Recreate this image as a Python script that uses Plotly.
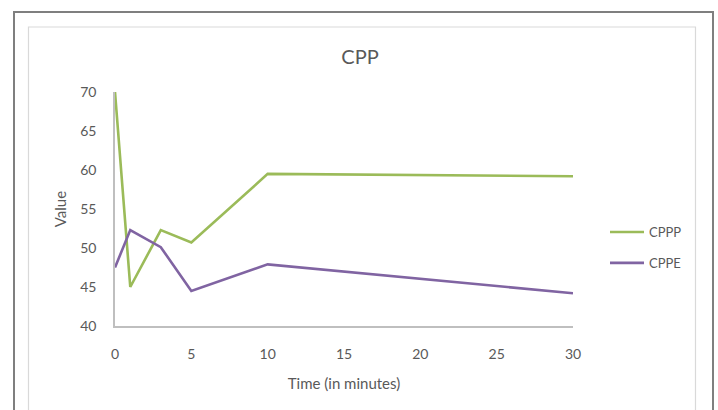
import plotly.graph_objects as go

time_min = [0, 1, 3, 5, 10, 30]
cppp = [70.0, 45.0, 52.3, 50.7, 59.5, 59.2]
cppe = [47.5, 52.3, 50.1, 44.5, 47.9, 44.2]
x_ticks = [0, 5, 10, 15, 20, 25, 30]
y_ticks = [40, 45, 50, 55, 60, 65, 70]

W, H = 718, 410
L, R, T, B = 115, 573, 92, 326
pw, ph = R - L, B - T

def px(xp):
    return (xp - L) / pw

def py(yp):
    return (B - yp) / ph

font_fam = "Lato, 'Open Sans', sans-serif"
grey = "#595959"

fig = go.Figure()
fig.add_trace(go.Scatter(x=time_min, y=cppp, mode="lines", name="CPPP", legendgroup="a",
                         line=dict(color="#9bbb59", width=2.6)))
fig.add_trace(go.Scatter(x=time_min, y=cppe, mode="lines", name="CPPE", legendgroup="b",
                         line=dict(color="#8064a2", width=2.6)))

fig.update_layout(
    width=W, height=H,
    margin=dict(l=L, r=W - R, t=T, b=H - B, pad=0),
    paper_bgcolor="white", plot_bgcolor="white",
    font=dict(family=font_fam, color=grey, size=14),
    title=dict(text="CPP", x=(360) / W, xanchor="center", y=1 - 57 / H, yanchor="middle",
               font=dict(size=20, color="#595959", family=font_fam)),
    showlegend=True,
    legend=dict(x=px(605), y=py(217), xanchor="left", yanchor="top",
                font=dict(size=13, color=grey, family=font_fam),
                tracegroupgap=11, itemwidth=34, bgcolor="rgba(0,0,0,0)"),
    xaxis=dict(range=[0, 30], tickvals=x_ticks, showgrid=False, zeroline=False,
               showline=True, linecolor="#bfbfbf", linewidth=1.5, ticks="",
               ticklabelstandoff=14,
               tickfont=dict(size=14, color=grey),
               title=dict(text="Time (in minutes)", standoff=18, font=dict(size=15, color=grey))),
    yaxis=dict(range=[40, 70], tickvals=y_ticks, showgrid=False, zeroline=False,
               showline=True, linecolor="#bfbfbf", linewidth=1.5, ticks="",
               ticklabelstandoff=14,
               tickfont=dict(size=14, color=grey),
               title=dict(text="Value", standoff=10, font=dict(size=15, color=grey))),
    shapes=[
        dict(type="rect", xref="paper", yref="paper",
             x0=px(14), x1=px(713), y0=py(12), y1=py(430),
             line=dict(color="#7f7f7f", width=2), fillcolor="rgba(0,0,0,0)", layer="below"),
        dict(type="rect", xref="paper", yref="paper",
             x0=px(28.5), x1=px(695.5), y0=py(27), y1=py(430),
             line=dict(color="#d9d9d9", width=1.2), fillcolor="rgba(0,0,0,0)", layer="below"),
    ],
)

fig.write_html("out.html", config={"displayModeBar": False},
               post_script="document.body.style.margin='0';")
